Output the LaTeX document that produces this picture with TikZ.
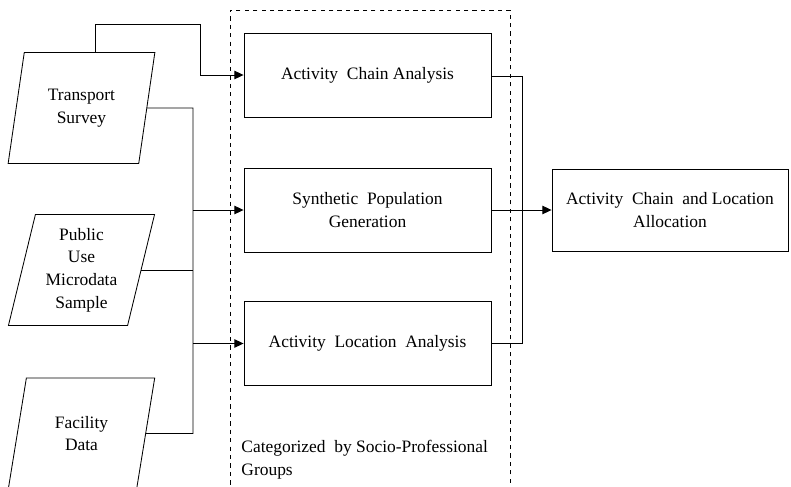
\documentclass[tikz,border=0pt]{standalone}
\usepackage{fontspec}
\setmainfont{Liberation Serif}
\usetikzlibrary{shapes.geometric,arrows.meta}
\begin{document}
\begin{tikzpicture}[x=0.025cm, y=-0.025cm, semithick, font=\fontsize{12.4}{16.2}\selectfont, >={Triangle[length=6.5pt,width=6pt]}, data/.style={draw, trapezium, trapezium left angle=76, trapezium right angle=104, trapezium stretches=true, minimum width=3.675cm, minimum height=2.775cm, align=center, inner sep=0pt}, process/.style={draw, minimum width=6.175cm, minimum height=2.1cm, align=center}]
	\useasboundingbox (0,0) rectangle (791,487);
	\node[draw, thin, dashed, minimum width=7cm, minimum height=12.2cm] (grp) at (370,254) {};
	\node[data] (TS) at (81.5,108) {Transport\\Survey};
	\node[data] (PU) at (81.5,270) {Public\\Use\\Microdata\\Sample};
	\node[data] (FD) at (81.5,433.5) {Facility\\Data};
	\node[process] (ACA) at (367.5,75) {Activity\ \ Chain Analysis};
	\node[process] (SPG) at (367.5,210) {Synthetic\ \ Population\\Generation};
	\node[process] (ALA) at (367.5,343.5) {Activity\ \ Location\ \ Analysis};
	\node[draw, minimum width=5.9cm, minimum height=2.05cm, align=center] (ACL) at (670,210) {Activity\ \ Chain\ \ and Location\\Allocation};
	\node[anchor=north west, align=left, inner sep=0pt] (CAT) at (241,440) {Categorized\ \ by Socio-Professional\\Groups};
	\coordinate (J1) at (193,108);
	\coordinate (J2) at (193,433.5);
	\coordinate (J3) at (522,76);
	\draw[->] ([xshift=0.35cm]TS.north) |- (200,24) |- (ACA.west);
	\draw (TS.east) -- (J1) -- (J2) -- (FD.east);
	\draw (PU.east) -- (PU.east -| J1);
	\draw[->] (SPG.west -| J1) -- (SPG.west);
	\draw[->] (ALA.west -| J1) -- (ALA.west);
	\draw (ACA.east |- J3) -- (J3) |- (ALA.east);
	\draw[->] (SPG.east) -- (ACL.west);
\end{tikzpicture}
\end{document}
